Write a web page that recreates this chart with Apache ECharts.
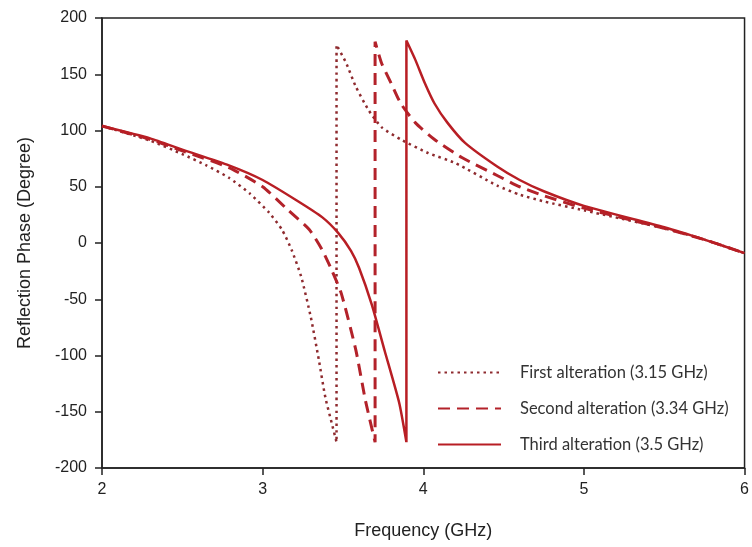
<!DOCTYPE html>
<html>
<head>
<meta charset="utf-8">
<script src="https://cdn.jsdelivr.net/npm/echarts@6/dist/echarts.min.js"></script>
<style>
  html, body { margin: 0; padding: 0; background: #fff; }
  #chart { width: 752px; height: 547px; }
</style>
</head>
<body>
<div id="chart"></div>
<script>
// 频率 (GHz) 与反射相位 (度)
var firstFreq  = [2.0, 2.3, 2.5, 2.65, 2.79, 2.92, 3.04, 3.12, 3.18, 3.24, 3.3, 3.35, 3.39, 3.43, 3.46, 3.46, 3.52, 3.58, 3.66, 3.74, 3.86, 4.03, 4.2, 4.46, 4.6, 4.75, 5.0, 5.5, 5.75, 6.0];
var firstPhase = [104, 91, 79, 69, 58, 44, 27, 12, -6, -30, -66, -104, -137, -160, -177, 176, 160, 139, 118, 103, 92, 80, 71, 51, 43, 37, 29, 13, 3, -9];

var secondFreq  = [2.0, 2.3, 2.5, 2.79, 3.0, 3.16, 3.29, 3.37, 3.43, 3.49, 3.58, 3.64, 3.7, 3.7, 3.74, 3.8, 3.86, 3.95, 4.07, 4.24, 4.46, 4.6, 4.75, 5.0, 5.5, 5.75, 6.0];
var secondPhase = [104, 92, 82, 67, 50, 29, 12, -6, -24, -45, -95, -140, -177, 179, 160, 142, 124, 107, 92, 76, 60, 50, 42, 31, 13, 3, -9];

var thirdFreq  = [2.0, 2.3, 2.5, 2.79, 3.0, 3.21, 3.37, 3.47, 3.55, 3.6, 3.68, 3.76, 3.85, 3.895, 3.895, 3.95, 4.01, 4.07, 4.15, 4.26, 4.46, 4.6, 4.75, 5.0, 5.5, 5.75, 6.0];
var thirdPhase = [104, 93, 83, 69, 56, 38, 23, 9, -7, -22, -55, -96, -142, -177, 180, 163, 142, 124, 107, 89, 68, 56, 46, 33, 14, 3, -9];

var seriesNames = ['First alteration (3.15 GHz)', 'Second alteration (3.34 GHz)', 'Third alteration (3.5 GHz)'];

function pairs(xs, ys) {
    var out = [];
    for (var i = 0; i < xs.length; i++) out.push([xs[i], ys[i]]);
    return out;
}

var myChart = echarts.init(document.getElementById('chart'));

option = {
    animation: false,
    backgroundColor: '#fff',
    grid: {
        left: 102,
        right: 4,
        top: 18,
        bottom: 79,
        show: true,
        borderColor: '#222',
        borderWidth: 1.5
    },
    legend: {
        orient: 'vertical',
        left: 432,
        top: 359,
        itemWidth: 63,
        itemHeight: 14,
        itemGap: 19,
        itemStyle: { opacity: 0 },
        textStyle: {
            fontFamily: 'Lato',
            fontSize: 16.5,
            color: '#333',
            padding: [0, 0, 0, 14]
        },
        data: seriesNames
    },
    xAxis: {
        type: 'value',
        min: 2,
        max: 6,
        interval: 1,
        name: 'Frequency (GHz)',
        nameLocation: 'middle',
        nameGap: 54,
        nameTextStyle: { fontFamily: 'Liberation Sans', fontSize: 18, color: '#222' },
        axisLine: { onZero: false, lineStyle: { color: '#222', width: 1.5 } },
        axisTick: { show: true, length: 7, lineStyle: { color: '#222', width: 1.5 } },
        axisLabel: { fontFamily: 'Liberation Sans', fontSize: 16, color: '#222', margin: 14 },
        splitLine: { show: false }
    },
    yAxis: {
        type: 'value',
        min: -200,
        max: 200,
        interval: 50,
        name: 'Reflection Phase (Degree)',
        nameLocation: 'middle',
        nameGap: 68,
        nameTextStyle: { fontFamily: 'Liberation Sans', fontSize: 18, color: '#222' },
        axisLine: { lineStyle: { color: '#222', width: 1.5 } },
        axisTick: { show: true, length: 7, lineStyle: { color: '#222', width: 1.5 } },
        axisLabel: { fontFamily: 'Liberation Sans', fontSize: 16, color: '#222', margin: 15 },
        splitLine: { show: false }
    },
    series: [
        {
            name: seriesNames[0],
            type: 'line',
            symbol: 'none',
            smooth: 0.2,
            color: '#8e2a2e',
            lineStyle: { width: 2.5, type: [2.5, 4], color: '#8e2a2e' },
            data: pairs(firstFreq, firstPhase)
        },
        {
            name: seriesNames[1],
            type: 'line',
            symbol: 'none',
            smooth: 0.2,
            color: '#b3222a',
            lineStyle: { width: 3, type: [12, 7], color: '#b3222a' },
            data: pairs(secondFreq, secondPhase)
        },
        {
            name: seriesNames[2],
            type: 'line',
            symbol: 'none',
            smooth: 0.2,
            color: '#b81e24',
            lineStyle: { width: 2.5, type: 'solid', color: '#b81e24' },
            data: pairs(thirdFreq, thirdPhase)
        }
    ]
};
myChart.setOption(option);
</script>
</body>
</html>
